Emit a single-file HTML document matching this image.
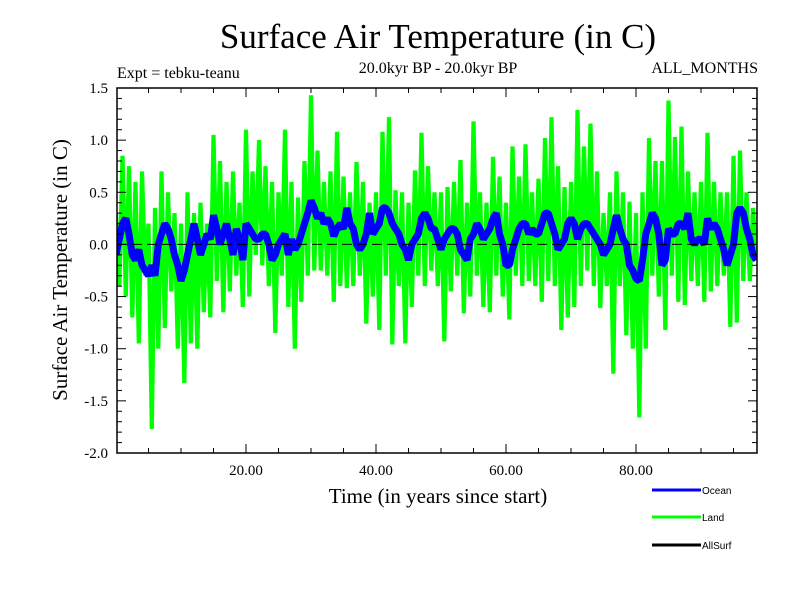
<!DOCTYPE html>
<html><head><meta charset="utf-8"><style>
body{margin:0;background:#fff}
svg{display:block;font-family:"Liberation Serif",serif}
</style></head><body>
<svg id="chart" width="800" height="600" viewBox="0 0 800 600">
<text x="438" y="48" font-size="35" text-anchor="middle">Surface Air Temperature (in C)</text>
<text x="117" y="78" font-size="16">Expt = tebku-teanu</text>
<text x="438" y="73" font-size="16" text-anchor="middle">20.0kyr BP - 20.0kyr BP</text>
<text x="758" y="73" font-size="16" text-anchor="end">ALL_MONTHS</text>
<g id="plot"></g>
<text x="438" y="503" font-size="21" text-anchor="middle">Time (in years since start)</text>
<text transform="translate(67,270) rotate(-90)" font-size="21" text-anchor="middle">Surface Air Temperature (in C)</text>
<g font-family="Liberation Sans, sans-serif" font-size="10">
<g><line x1="652" y1="490" x2="701" y2="490" stroke="#0000ff" stroke-width="3"/><text x="702" y="494">Ocean</text></g>
<g><line x1="652" y1="517" x2="701" y2="517" stroke="#00ff00" stroke-width="3"/><text x="702" y="521">Land</text></g>
<g><line x1="652" y1="545" x2="701" y2="545" stroke="#000" stroke-width="3"/><text x="702" y="549">AllSurf</text></g>
</g>
</svg>
<script>
const yTicks=[1.5,1.0,0.5,0.0,-0.5,-1.0,-1.5,-2.0];
const yTickLabels=["1.5","1.0","0.5","0.0","-0.5","-1.0","-1.5","-2.0"];
const xTicks=[20,40,60,80];
const xTickLabels=["20.00","40.00","60.00","80.00"];
const timeStep=0.5;
const land=[0.3,-0.4,0.85,-0.5,0.75,-0.7,0.6,-0.95,0.7,-0.3,0.2,-1.77,0.35,-1.0,0.7,-0.8,0.5,-0.45,0.3,-1.0,
0.2,-1.33,0.5,-0.95,0.3,-1.0,0.4,-0.65,0.2,-0.7,1.05,-0.35,0.8,-0.65,0.6,-0.45,0.7,-0.3,0.4,-0.6,
1.1,-0.5,0.7,-0.1,1.0,-0.2,0.75,-0.4,0.6,-0.85,0.5,-0.3,1.1,-0.6,0.6,-1.0,0.45,-0.55,0.8,-0.3,
1.43,-0.25,0.9,-0.25,0.6,-0.3,0.7,-0.55,1.08,-0.4,0.65,-0.42,0.5,-0.4,0.79,-0.3,0.6,-0.76,0.4,-0.5,
0.5,-0.82,1.08,-0.3,1.22,-0.96,0.52,-0.4,0.5,-0.95,0.4,-0.6,0.71,-0.3,1.07,-0.4,0.75,-0.25,0.5,-0.4,
0.5,-0.93,0.55,-0.45,0.6,-0.3,0.81,-0.66,0.4,-0.5,1.18,-0.3,0.5,-0.6,0.4,-0.65,0.84,-0.3,0.65,-0.5,
0.4,-0.72,0.94,-0.3,0.65,-0.4,0.96,-0.35,0.5,-0.4,0.63,-0.55,1.02,-0.35,1.22,-0.4,0.75,-0.82,0.55,-0.7,
0.6,-0.6,1.29,-0.4,0.94,-0.25,1.16,-0.4,0.7,-0.61,0.3,-0.4,0.5,-1.24,0.7,-0.4,0.5,-0.87,0.41,-1.0,
0.3,-1.66,0.5,-1.0,1.02,-0.3,0.8,-0.5,0.8,-0.82,1.38,-0.3,1.03,-0.55,1.13,-0.58,0.7,-0.35,0.5,-0.4,
0.6,-0.55,1.07,-0.45,0.6,-0.4,0.5,-0.3,0.5,-0.79,0.85,-0.75,0.9,-0.35,0.5,-0.35,0.35,-0.15];
const ocean=[-0.1,0.05,0.2,0.25,0.1,-0.1,-0.15,-0.05,-0.2,-0.25,-0.3,-0.2,-0.3,0.0,0.1,0.2,0.15,0.05,-0.1,-0.2,
-0.35,-0.25,-0.1,0.05,0.2,0.05,-0.1,0.0,0.1,0.05,0.28,0.15,0.0,0.1,0.2,0.05,-0.1,0.15,0.05,-0.15,
0.2,0.15,0.1,0.05,0.05,0.1,0.1,0.0,-0.15,-0.1,0.0,0.05,0.1,-0.1,0.05,-0.05,0.0,0.1,0.2,0.3,
0.42,0.35,0.25,0.3,0.2,0.25,0.2,0.08,0.15,0.2,0.15,0.35,0.2,0.15,0.0,-0.05,0.0,0.1,0.3,0.1,
0.15,0.2,0.35,0.35,0.3,0.2,0.15,0.1,0.0,-0.05,-0.15,0.0,0.05,0.1,0.25,0.3,0.25,0.15,0.15,0.05,
-0.05,0.05,0.1,0.15,0.15,0.1,-0.05,-0.1,-0.15,0.05,0.1,0.2,0.15,0.05,0.1,0.15,0.25,0.3,0.1,0.0,
-0.2,-0.2,-0.05,0.05,0.15,0.2,0.2,0.1,0.15,0.1,0.1,0.2,0.3,0.3,0.2,0.1,-0.05,0.0,0.05,0.2,
0.25,0.2,0.05,0.15,0.2,0.2,0.15,0.1,0.05,0.0,-0.1,-0.05,0.0,0.15,0.28,0.15,0.05,0.0,-0.2,-0.25,
-0.33,-0.35,-0.15,0.1,0.2,0.3,0.25,0.1,-0.2,-0.15,0.15,0.1,0.1,0.2,0.2,0.15,0.3,0.05,0.0,0.05,
0.05,0.0,0.25,0.15,0.2,0.15,0.05,-0.05,-0.2,-0.1,0.0,0.3,0.35,0.3,0.15,0.05,-0.1,-0.15];

const L=117,R=757,T=88,B=453;
const xPerYear=6.5;
function xs(t){return 116+t*xPerYear;}
function ys(v){return T+(1.5-v)*(B-T)/3.5;}
const NS="http://www.w3.org/2000/svg";
const g=document.getElementById('plot');
function mk(tag,attrs,parent){const e=document.createElementNS(NS,tag);for(const k in attrs)e.setAttribute(k,attrs[k]);(parent||g).appendChild(e);return e;}

const defs=mk('clipPath',{id:'clip'});mk('rect',{x:L,y:T,width:R-L,height:B-T},defs);

let pts=land.map((v,i)=>xs(i*timeStep).toFixed(1)+','+ys(v).toFixed(1)).join(' ');
const lp=mk('polyline',{points:pts,fill:'none',stroke:'#00ff00','stroke-width':4.2,'stroke-linejoin':'miter','stroke-miterlimit':2,'clip-path':'url(#clip)'});


pts=ocean.map((v,i)=>xs(i*timeStep).toFixed(1)+','+ys(v).toFixed(1)).join(' ');
const op=mk('polyline',{points:pts,fill:'none',stroke:'#0000ff','stroke-width':7,'stroke-linejoin':'bevel','clip-path':'url(#clip)'});



const zl=mk('line',{x1:L,x2:R,y1:ys(0),y2:ys(0),stroke:'#000','stroke-width':1,'stroke-dasharray':'10,5'});



const fr=mk('rect',{x:L,y:T,width:R-L,height:B-T,fill:'none',stroke:'#000','stroke-width':1.5});



for(let k=-20;k<=15;k++){const v=k/10,y=ys(v),len=(k%5===0)?9:5;
 mk('line',{x1:L,x2:L+len,y1:y,y2:y,stroke:'#000','stroke-width':1});
 mk('line',{x1:R,x2:R-len,y1:y,y2:y,stroke:'#000','stroke-width':1});}
yTicks.forEach((v,i)=>{const t=mk('text',{x:108,y:ys(v)+5,'font-size':15,'text-anchor':'end'});t.textContent=yTickLabels[i];
 
 });
for(let yr=5;yr<98;yr+=5){const x=xs(yr),len=(yr%20===0)?9:5;
 mk('line',{x1:x,x2:x,y1:B,y2:B-len,stroke:'#000','stroke-width':1});
 mk('line',{x1:x,x2:x,y1:T,y2:T+len,stroke:'#000','stroke-width':1});}
xTicks.forEach((v,i)=>{const t=mk('text',{x:xs(v),y:475,'font-size':15,'text-anchor':'middle'});t.textContent=xTickLabels[i];
 
 });
</script>
</body></html>
